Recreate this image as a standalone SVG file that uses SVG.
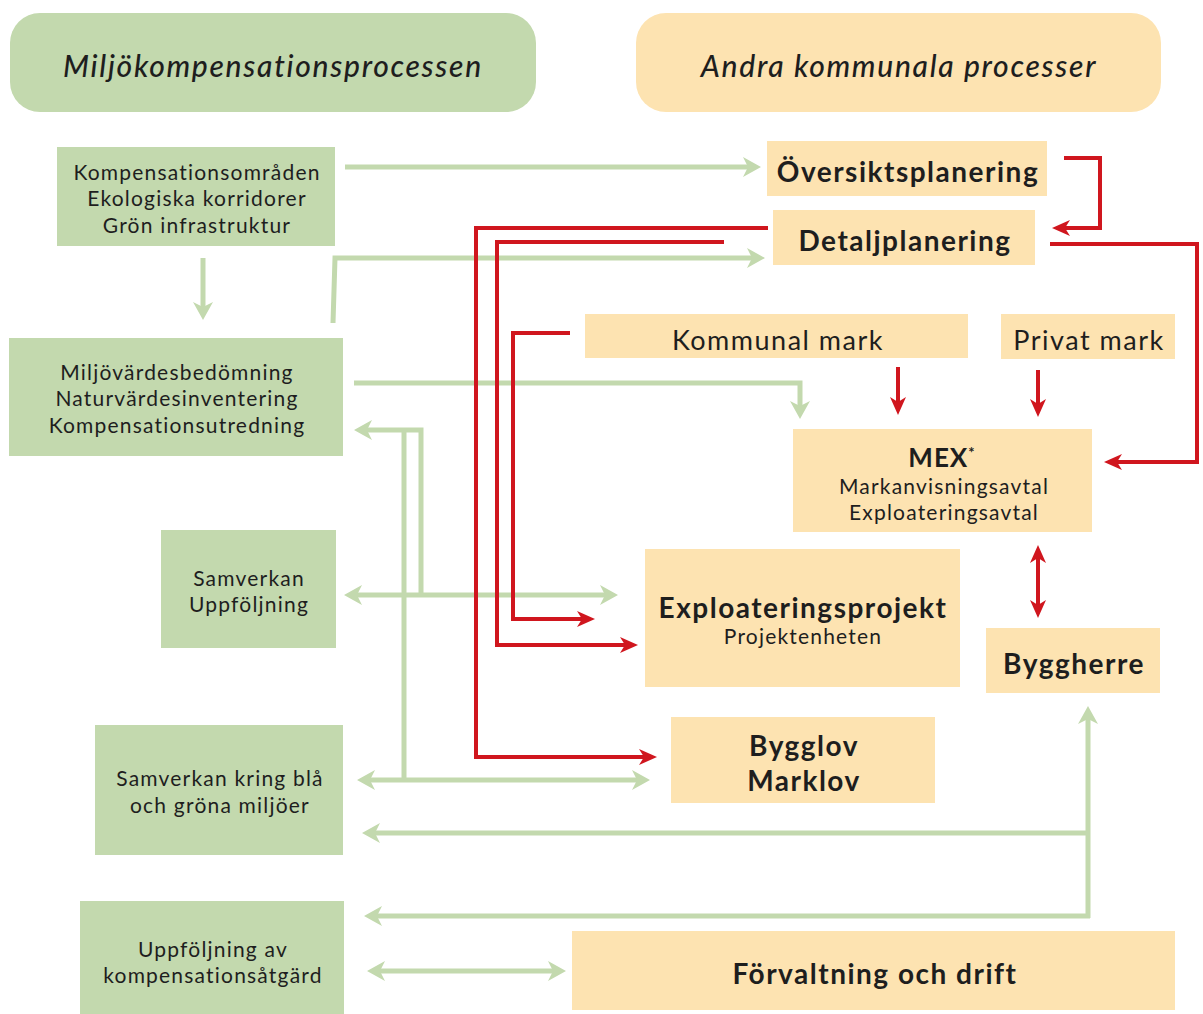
<svg xmlns="http://www.w3.org/2000/svg" width="1203" height="1014" viewBox="0 0 1203 1014">
<style>
.g{fill:#c3d9ae}
.o{fill:#fde3b1}
.t{font-family:Lato,"Open Sans","Liberation Sans",sans-serif;fill:#1e1e1e;text-anchor:middle}
.r19{font-size:21px;letter-spacing:1.2px}
.b26{font-size:28px;font-weight:700;letter-spacing:1.5px}
.r26{font-size:27px;letter-spacing:1.5px}
.h{font-size:30px;font-style:italic;font-weight:500;letter-spacing:1.7px}
.gl{fill:none;stroke:#c3d9ae;stroke-width:5}
.rl{fill:none;stroke:#d0161e;stroke-width:4}
</style>
<defs>
<marker id="ga" viewBox="0 0 18 20" refX="10" refY="10" markerWidth="18" markerHeight="20" markerUnits="userSpaceOnUse" orient="auto-start-reverse"><path d="M0,0 L18,10 L0,20 L5,10 z" fill="#c3d9ae"/></marker>
<marker id="ra" viewBox="0 0 18 16" refX="10" refY="8" markerWidth="18" markerHeight="16" markerUnits="userSpaceOnUse" orient="auto-start-reverse"><path d="M0,0 L18,8 L0,16 L5,8 z" fill="#d0161e"/></marker>
</defs>
<rect width="1203" height="1014" fill="#ffffff"/>

<g id="header-miljo"><rect class="g" x="10" y="13" width="526" height="99" rx="30"/><text class="t h" x="273" y="77">Miljökompensationsprocessen</text></g>
<g id="header-andra"><rect class="o" x="636" y="13" width="525" height="99" rx="30"/><text class="t h" x="899" y="77">Andra kommunala processer</text></g>

<g id="connectors">
<g id="green">
<path class="gl" d="M345,167 H753" marker-end="url(#ga)"/>
<path class="gl" d="M203,258 V312" marker-end="url(#ga)"/>
<path class="gl" d="M333,323 L335,258 H757" marker-end="url(#ga)"/>
<path class="gl" d="M354,383 H800 V411" marker-end="url(#ga)"/>
<path class="gl" d="M421,595 V430 H362" marker-end="url(#ga)"/>
<path class="gl" d="M404,780 V430"/>
<path class="gl" d="M352,595 H610" marker-start="url(#ga)" marker-end="url(#ga)"/>
<path class="gl" d="M365,780 H642" marker-start="url(#ga)" marker-end="url(#ga)"/>
<path class="gl" d="M1088,918 V714" marker-end="url(#ga)"/>
<path class="gl" d="M1088,833 H370" marker-end="url(#ga)"/>
<path class="gl" d="M1090,916 H372" marker-end="url(#ga)"/>
<path class="gl" d="M375,971 H558" marker-start="url(#ga)" marker-end="url(#ga)"/>
</g>
<g id="red">
<path class="rl" d="M1064,158 H1100 V228 H1060" marker-end="url(#ra)"/>
<path class="rl" d="M1050,244 H1197 V462 H1112" marker-end="url(#ra)"/>
<path class="rl" d="M768,228 H476 V757 H649" marker-end="url(#ra)"/>
<path class="rl" d="M724,242 H497 V645 H630" marker-end="url(#ra)"/>
<path class="rl" d="M570,333 H513 V619 H587" marker-end="url(#ra)"/>
<path class="rl" d="M898,367 V407" marker-end="url(#ra)"/>
<path class="rl" d="M1038,370 V409" marker-end="url(#ra)"/>
<path class="rl" d="M1038,553 V610" marker-start="url(#ra)" marker-end="url(#ra)"/>
</g>
</g>

<g id="n-kompensationsomraden"><rect class="g" x="57" y="147" width="278" height="99"/>
<text class="t r19" x="197"><tspan x="197" y="180">Kompensationsområden</tspan><tspan x="197" y="206">Ekologiska korridorer</tspan><tspan x="197" y="233">Grön infrastruktur</tspan></text></g>

<g id="n-miljovardesbedomning"><rect class="g" x="9" y="338" width="334" height="118"/>
<text class="t r19" x="177"><tspan x="177" y="380">Miljövärdesbedömning</tspan><tspan x="177" y="406">Naturvärdesinventering</tspan><tspan x="177" y="433">Kompensationsutredning</tspan></text></g>

<g id="n-samverkan"><rect class="g" x="161" y="530" width="175" height="118"/>
<text class="t r19" x="249"><tspan x="249" y="586">Samverkan</tspan><tspan x="249" y="612">Uppföljning</tspan></text></g>

<g id="n-samverkan-bla"><rect class="g" x="95" y="725" width="248" height="130"/>
<text class="t r19" x="220"><tspan x="220" y="786">Samverkan kring blå</tspan><tspan x="220" y="813">och gröna miljöer</tspan></text></g>

<g id="n-uppfoljning-av"><rect class="g" x="80" y="901" width="264" height="113"/>
<text class="t r19" x="213"><tspan x="213" y="957">Uppföljning av</tspan><tspan x="213" y="983">kompensationsåtgärd</tspan></text></g>

<g id="n-oversiktsplanering"><rect class="o" x="767" y="141" width="280" height="55"/>
<text class="t b26" x="908" y="182">Översiktsplanering</text></g>

<g id="n-detaljplanering"><rect class="o" x="773" y="210" width="262" height="55"/>
<text class="t b26" x="905" y="251">Detaljplanering</text></g>

<g id="n-kommunal-mark"><rect class="o" x="585" y="314" width="383" height="44"/>
<text class="t r26" x="778" y="350">Kommunal mark</text></g>

<g id="n-privat-mark"><rect class="o" x="1001" y="314" width="174" height="45"/>
<text class="t r26" x="1089" y="350">Privat mark</text></g>

<g id="n-mex"><rect class="o" x="793" y="429" width="299" height="103"/>
<text class="t" x="942" y="467" style="font-size:26px;font-weight:700;letter-spacing:1px">MEX<tspan dy="-9" style="font-size:15px">*</tspan></text>
<text class="t r19" x="944"><tspan x="944" y="494">Markanvisningsavtal</tspan><tspan x="944" y="520">Exploateringsavtal</tspan></text></g>

<g id="n-exploateringsprojekt"><rect class="o" x="645" y="549" width="315" height="138"/>
<text class="t b26" x="803" y="618">Exploateringsprojekt</text>
<text class="t r19" x="803" y="644">Projektenheten</text></g>

<g id="n-byggherre"><rect class="o" x="986" y="628" width="174" height="65"/>
<text class="t b26" x="1074" y="674">Byggherre</text></g>

<g id="n-bygglov"><rect class="o" x="671" y="717" width="264" height="86"/>
<text class="t b26" x="804"><tspan x="804" y="756">Bygglov</tspan><tspan x="804" y="791">Marklov</tspan></text></g>

<g id="n-forvaltning"><rect class="o" x="572" y="931" width="603" height="79"/>
<text class="t b26" x="875" y="984">Förvaltning och drift</text></g>
</svg>
